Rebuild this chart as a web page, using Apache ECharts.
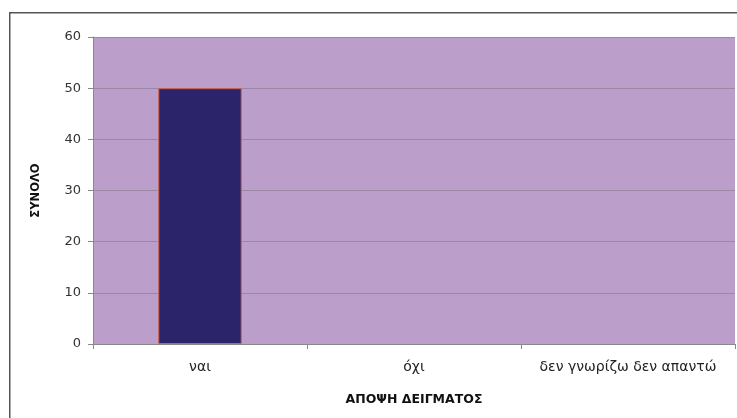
<!DOCTYPE html>
<html><head><meta charset="utf-8">
<script src="https://cdn.jsdelivr.net/npm/echarts@6/dist/echarts.min.js"></script>
<style>html,body{margin:0;padding:0;background:#fff}#c{width:737px;height:418px}</style>
</head><body><div id="c"></div>
<script>
const categories = ["ναι", "όχι", "δεν γνωρίζω δεν απαντώ"];
const values = [50, 0, 0];
const yTicks = [0, 10, 20, 30, 40, 50, 60];

const chart = echarts.init(document.getElementById('c'));
chart.setOption({
  animation: false,
  backgroundColor: '#ffffff',
  graphic: [{
    type: 'rect', left: 9, top: 12, z: -1,
    shape: { width: 740, height: 420 },
    style: { fill: '#ffffff', stroke: '#555', lineWidth: 1.5 }
  }],
  grid: { left: 93, right: 2, top: 37, bottom: 74, show: true, backgroundColor: '#bc9ecb', borderWidth: 0 },
  xAxis: {
    type: 'category', data: categories,
    name: 'ΑΠΟΨΗ ΔΕΙΓΜΑΤΟΣ', nameLocation: 'middle', nameGap: 49,
    nameTextStyle: { fontFamily: 'DejaVu Sans', fontWeight: 'bold', fontSize: 12.5, color: '#111' },
    axisLine: { lineStyle: { color: '#888', width: 1 } },
    axisTick: { show: true, interval: 0, alignWithLabel: false, length: 5, lineStyle: { color: '#888' } },
    axisLabel: { interval: 0, hideOverlap: false, fontFamily: 'DejaVu Sans', fontSize: 14, color: '#222', margin: 16 }
  },
  yAxis: {
    type: 'value', min: 0, max: 60, interval: 10,
    name: 'ΣΥΝΟΛΟ', nameLocation: 'middle', nameGap: 51, nameRotate: 90,
    nameTextStyle: { fontFamily: 'DejaVu Sans', fontWeight: 'bold', fontSize: 11.5, color: '#111' },
    axisLine: { show: true, lineStyle: { color: '#888', width: 1 } },
    axisTick: { show: true, length: 5, lineStyle: { color: '#888' } },
    axisLabel: { fontFamily: 'DejaVu Sans', fontSize: 13, color: '#333', margin: 12,
      formatter: v => yTicks.includes(v) ? String(v) : '' },
    splitLine: { show: true, lineStyle: { color: '#9a88a6', width: 1 } }
  },
  series: [{
    type: 'bar', barWidth: '39%',
    data: values.map(v => ({ value: v, itemStyle: { borderWidth: v > 0 ? 1 : 0 } })),
    itemStyle: { color: '#2b246b', borderColor: '#d0604a', borderWidth: 1 }
  }]
});
</script>
</body></html>
